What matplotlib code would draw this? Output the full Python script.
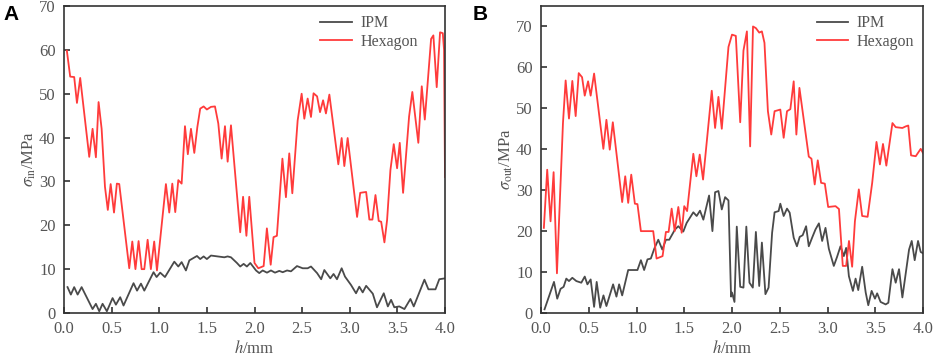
import matplotlib
matplotlib.use("Agg")
import matplotlib.pyplot as plt

# ---------------- Panel A data ----------------
a_hex_h = [0.03, 0.065, 0.107, 0.136, 0.17, 0.265, 0.30, 0.335, 0.363, 0.395, 0.43, 0.46, 0.49, 0.525,
           0.555, 0.58, 0.685, 0.717, 0.75, 0.783, 0.815, 0.843, 0.878, 0.912, 0.947, 0.976, 1.07, 1.105,
           1.137, 1.168, 1.20, 1.235, 1.27, 1.30, 1.333, 1.368, 1.40, 1.43, 1.466, 1.50, 1.543, 1.585,
           1.62, 1.655, 1.69, 1.718, 1.753, 1.85, 1.88, 1.915, 1.945, 2.0, 2.04, 2.096, 2.13, 2.17, 2.20,
           2.235, 2.293, 2.33, 2.365, 2.397, 2.453, 2.495, 2.523, 2.558, 2.593, 2.62, 2.657, 2.688, 2.72,
           2.75, 2.786, 2.88, 2.915, 2.943, 2.978, 3.077, 3.11, 3.172, 3.206, 3.238, 3.27, 3.304, 3.33,
           3.364, 3.392, 3.427, 3.462, 3.497, 3.525, 3.56, 3.623, 3.657, 3.69, 3.72, 3.756, 3.788, 3.854,
           3.878, 3.913, 3.948, 3.977, 3.99, 4.0]
a_hex_v = [59.8, 53.9, 53.8, 47.9, 53.6, 35.6, 42.0, 35.5, 48.1, 42.0, 28.8, 23.5, 29.4, 22.9,
           29.5, 29.4, 10.2, 16.3, 10.0, 16.4, 10.0, 10.0, 16.7, 10.0, 16.3, 9.7, 29.4, 22.9,
           29.5, 23.0, 30.3, 29.5, 42.6, 36.2, 42.0, 36.5, 42.4, 46.6, 47.1, 46.4, 47.0, 47.1,
           43.2, 35.2, 42.6, 34.5, 42.8, 18.4, 26.5, 17.6, 26.5, 11.4, 10.2, 10.7, 19.3, 11.0, 17.3,
           17.6, 35.2, 26.4, 36.4, 27.3, 43.9, 50.0, 44.3, 48.9, 44.7, 50.1, 49.4, 45.8, 48.5,
           45.5, 49.8, 33.9, 39.9, 33.5, 39.9, 21.9, 27.4, 27.6, 21.3, 21.3, 26.9, 21.0, 20.8,
           16.1, 21.2, 32.6, 38.5, 33.0, 38.8, 27.4, 44.8, 50.4, 44.3, 38.8, 51.7, 44.1, 62.5,
           63.3, 51.5, 64.0, 63.8, 60.0, 31.0]

a_ipm_h = [0.037, 0.072, 0.107, 0.143, 0.185, 0.30, 0.335, 0.37, 0.405, 0.45, 0.51, 0.545, 0.59, 0.625,
           0.73, 0.767, 0.808, 0.843, 0.94, 0.972, 1.01, 1.06, 1.158, 1.20, 1.235, 1.28, 1.316, 1.396,
           1.43, 1.466, 1.50, 1.543, 1.613, 1.683, 1.718, 1.753, 1.816, 1.85, 1.886, 1.92, 1.956, 2.016,
           2.05, 2.086, 2.131, 2.173, 2.215, 2.26, 2.296, 2.342, 2.383, 2.446, 2.506, 2.558, 2.593, 2.657,
           2.70, 2.733, 2.796, 2.83, 2.866, 2.915, 2.95, 3.013, 3.066, 3.10, 3.136, 3.172, 3.242, 3.286,
           3.357, 3.40, 3.434, 3.468, 3.52, 3.574, 3.637, 3.672, 3.784, 3.826, 3.90, 3.94, 4.0]
a_ipm_v = [5.9, 4.2, 5.9, 4.2, 5.9, 0.9, 2.1, 0.4, 2.1, 0.4, 3.4, 1.9, 3.6, 1.7,
           6.8, 5.1, 6.7, 5.1, 9.3, 8.2, 9.2, 8.2, 11.7, 10.6, 11.6, 9.7, 12.0, 13.0,
           12.3, 12.9, 12.3, 13.1, 12.9, 12.7, 12.9, 12.7, 11.4, 10.6, 11.2, 10.6, 11.4, 9.7,
           9.1, 9.7, 9.2, 9.7, 9.2, 9.6, 9.3, 9.7, 9.5, 10.7, 10.2, 10.2, 10.6, 9.1,
           7.7, 9.8, 7.9, 8.9, 7.7, 10.2, 8.3, 6.4, 4.5, 6.0, 4.7, 6.2, 4.4, 1.3,
           4.5, 1.5, 3.0, 1.3, 1.5, 0.9, 3.2, 1.5, 7.6, 5.4, 5.4, 7.7, 7.9]

# ---------------- Panel B data ----------------
b_hex_h = [0.03, 0.065, 0.10, 0.132, 0.167, 0.23, 0.258, 0.293, 0.328, 0.363, 0.395, 0.43, 0.458, 0.493,
           0.52, 0.556, 0.653, 0.685, 0.72, 0.752, 0.85, 0.882, 0.913, 0.945, 0.983, 1.01, 1.046, 1.175,
           1.21, 1.273, 1.308, 1.336, 1.368, 1.40, 1.438, 1.473, 1.50, 1.53, 1.595, 1.627, 1.662, 1.697,
           1.788, 1.823, 1.858, 1.893, 1.963, 2.0, 2.04, 2.086, 2.12, 2.156, 2.19, 2.22, 2.25, 2.285,
           2.313, 2.34, 2.376, 2.411, 2.446, 2.506, 2.541, 2.576, 2.611, 2.646, 2.674, 2.706, 2.804, 2.832,
           2.866, 2.898, 2.933, 2.972, 3.007, 3.084, 3.12, 3.16, 3.195, 3.225, 3.258, 3.287, 3.328, 3.363,
           3.42, 3.468, 3.513, 3.549, 3.581, 3.616, 3.68, 3.714, 3.784, 3.82, 3.846, 3.875, 3.924, 3.976, 4.0]
b_hex_v = [20.8, 35.0, 22.4, 34.4, 9.7, 46.4, 56.8, 47.5, 56.7, 48.1, 58.6, 57.6, 53.1, 56.6,
           53.1, 58.5, 40.1, 47.2, 39.9, 46.6, 27.1, 33.4, 26.9, 33.8, 26.7, 26.6, 20.0, 20.0,
           13.3, 13.9, 19.8, 19.8, 25.5, 20.0, 25.9, 19.6, 26.1, 24.9, 38.9, 33.4, 38.7, 32.6,
           54.3, 45.2, 52.8, 45.0, 65.0, 68.0, 67.7, 46.6, 64.1, 68.8, 40.7, 70.0, 69.6, 68.5,
           68.8, 66.0, 49.3, 43.6, 49.3, 49.7, 42.8, 49.3, 49.8, 56.6, 43.6, 55.0, 38.2, 37.7,
           31.4, 37.3, 31.8, 31.6, 25.9, 26.1, 25.4, 11.5, 11.5, 17.6, 11.3, 22.4, 30.2, 23.7,
           23.5, 31.8, 41.8, 36.3, 41.3, 36.0, 46.4, 45.4, 45.2, 45.6, 45.8, 38.5, 38.3, 40.1, 39.1]

b_ipm_h = [0.037, 0.136, 0.17, 0.205, 0.237, 0.265, 0.293, 0.328, 0.37, 0.422, 0.458, 0.486, 0.52, 0.556,
           0.583, 0.62, 0.654, 0.685, 0.755, 0.79, 0.818, 0.85, 0.913, 1.01, 1.046, 1.08, 1.115, 1.15,
           1.186, 1.228, 1.27, 1.308, 1.343, 1.403, 1.438, 1.49, 1.525, 1.595, 1.63, 1.665, 1.70, 1.76,
           1.795, 1.823, 1.858, 1.893, 1.928, 1.963, 1.99, 2.0, 2.026, 2.05, 2.086, 2.12, 2.15, 2.183,
           2.218, 2.25, 2.285, 2.313, 2.35, 2.383, 2.42, 2.446, 2.488, 2.506, 2.541, 2.576, 2.604, 2.646,
           2.68, 2.709, 2.74, 2.776, 2.804, 2.839, 2.874, 2.91, 2.944, 2.979, 3.014, 3.066, 3.10, 3.136,
           3.171, 3.195, 3.224, 3.266, 3.294, 3.322, 3.363, 3.40, 3.427, 3.462, 3.497, 3.52, 3.556, 3.609,
           3.637, 3.68, 3.714, 3.749, 3.784, 3.854, 3.882, 3.913, 3.948, 3.976, 4.0]
b_ipm_v = [0.9, 7.6, 3.5, 5.9, 6.4, 8.4, 7.8, 8.6, 7.8, 7.4, 8.9, 7.0, 8.2, 1.5,
           7.6, 1.3, 4.3, 1.7, 7.0, 4.0, 7.0, 4.3, 10.5, 10.5, 12.9, 10.5, 13.1, 13.3,
           15.7, 17.9, 15.5, 17.9, 17.9, 20.4, 21.2, 19.9, 22.0, 24.6, 23.7, 25.0, 22.8, 28.7,
           20.0, 29.5, 29.8, 25.3, 28.3, 27.5, 4.0, 5.0, 2.7, 21.1, 6.4, 6.2, 21.1, 7.4,
           6.2, 19.8, 6.6, 17.2, 4.6, 6.2, 19.6, 24.6, 24.9, 26.7, 23.7, 25.5, 24.5, 18.4,
           16.3, 18.6, 19.0, 21.2, 16.3, 18.4, 20.4, 21.9, 17.6, 20.8, 15.7, 11.5, 13.7, 16.3,
           13.9, 15.9, 9.0, 5.4, 8.4, 5.6, 11.3, 5.0, 1.9, 5.4, 3.5, 4.8, 2.7, 2.1,
           2.5, 10.7, 7.4, 10.7, 3.8, 15.5, 17.6, 12.9, 17.6, 14.9, 14.6]

x_ticks = [0.0, 0.5, 1.0, 1.5, 2.0, 2.5, 3.0, 3.5, 4.0]
x_ticklabels = ["0.0", "0.5", "1.0", "1.5", "2.0", "2.5", "3.0", "3.5", "4.0"]
a_yticks = [0, 10, 20, 30, 40, 50, 60, 70]
b_yticks = [0, 10, 20, 30, 40, 50, 60, 70]

plt.rcParams['font.family'] = ['Liberation Serif', 'DejaVu Serif']
plt.rcParams['mathtext.fontset'] = 'stix'

IPM_C = '#4a4a4a'
HEX_C = '#ff3b3b'
TXT_C = '#555555'
SPINE_C = '#333333'

fig = plt.figure(figsize=(9.34, 3.56), dpi=100)
axA = fig.add_axes([64/934, 1-313/356, (445-64)/934, (313-6)/356])
axB = fig.add_axes([541/934, 1-313/356, (923-541)/934, (313-6)/356])


def style(ax, yticks, ylim, ylabel, leg_x):
    ax.set_xlim(0, 4.0)
    ax.set_ylim(*ylim)
    ax.set_xticks(x_ticks)
    ax.set_xticklabels(x_ticklabels)
    ax.set_yticks(yticks)
    ax.tick_params(direction='in', length=4, width=1.2, colors=SPINE_C,
                   labelcolor=TXT_C, labelsize=12, pad=6)
    for s in ax.spines.values():
        s.set_color(SPINE_C)
        s.set_linewidth(1.2)
    ax.set_xlabel(r'$h$/mm', fontsize=12, color=TXT_C, labelpad=2)
    ax.set_ylabel(ylabel, fontsize=12, color=TXT_C, labelpad=1)
    leg = ax.legend(loc='upper right', frameon=False, fontsize=11.5, handlelength=2.0,
                    handletextpad=0.5, labelspacing=0.15, borderaxespad=0.0,
                    bbox_to_anchor=(leg_x, 0.99))
    for t in leg.get_texts():
        t.set_color(TXT_C)


axA.plot(a_ipm_h, a_ipm_v, color=IPM_C, lw=1.3, label='IPM')
axA.plot(a_hex_h, a_hex_v, color=HEX_C, lw=1.3, label='Hexagon')
style(axA, a_yticks, (0, 70), r'$\sigma_{\rm in}$/MPa', 0.945)

axB.plot(b_ipm_h, b_ipm_v, color=IPM_C, lw=1.3, label='IPM')
axB.plot(b_hex_h, b_hex_v, color=HEX_C, lw=1.3, label='Hexagon')
style(axB, b_yticks, (0, 75), r'$\sigma_{\rm out}$/MPa', 0.993)

fig.text(3/934, 1-20/356, 'A', fontsize=15, fontweight='bold', family='Liberation Sans')
fig.text(473/934, 1-20/356, 'B', fontsize=15, fontweight='bold', family='Liberation Sans')

fig.savefig('out.png', dpi=100)
